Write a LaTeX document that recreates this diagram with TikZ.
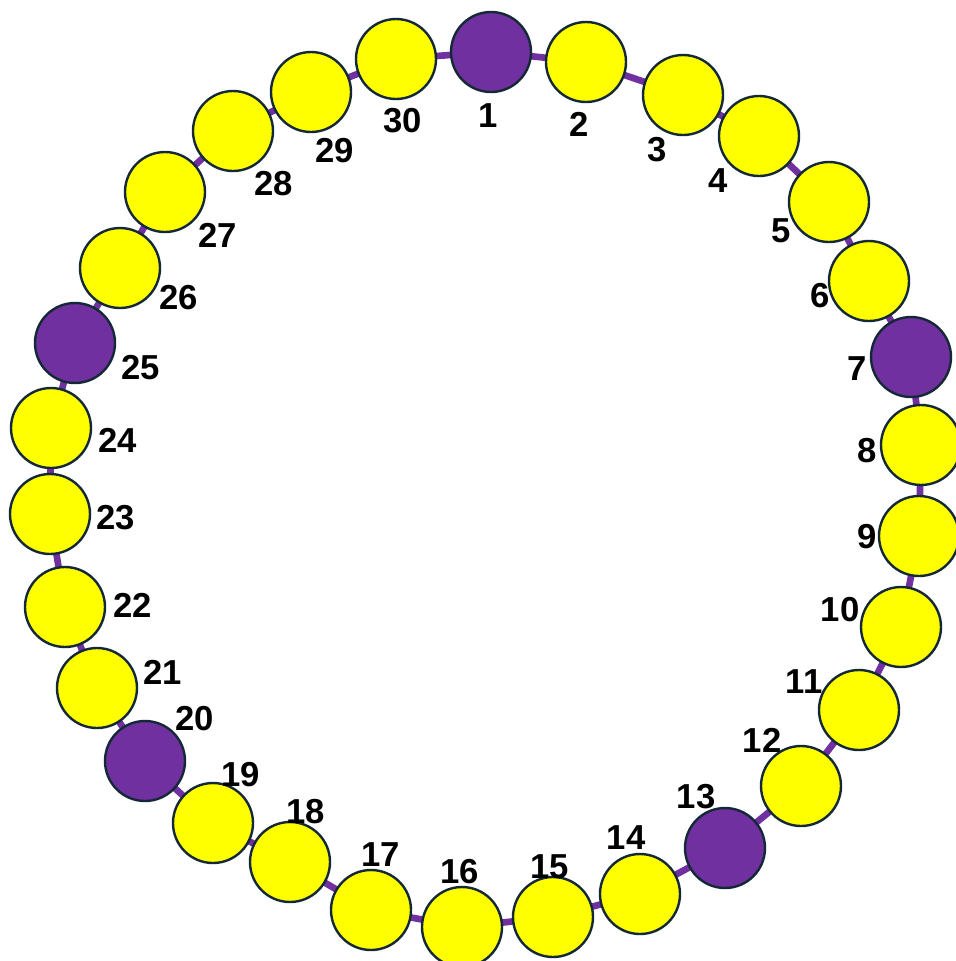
\documentclass[tikz,border=0pt]{standalone}
\usepackage{fontspec}
\setmainfont{Liberation Sans}
\usetikzlibrary{backgrounds}
\definecolor{ringpurple}{RGB}{112,48,160}
\definecolor{ringyellow}{RGB}{255,255,0}
\definecolor{ringborder}{RGB}{20,40,55}
\begin{document}
\begin{tikzpicture}[x=0.75pt,y=-0.75pt,
  bead/.style={circle,draw=ringborder,line width=1.8pt,minimum size=60pt,inner sep=0pt},
  ybead/.style={bead,fill=ringyellow},
  pbead/.style={bead,fill=ringpurple},
  lbl/.style={font=\bfseries\fontsize{26}{26}\selectfont,inner sep=0pt,text=black},
  link/.style={draw=ringpurple,line width=5pt}]
\useasboundingbox (0,0) rectangle (956,961);
\foreach \n/\x/\y/\s/\lx/\ly in {
  1/491/52/pbead/488/116,
  2/586/62/ybead/579/124,
  3/683/95/ybead/657/150,
  4/759/136/ybead/718/181,
  5/829/202/ybead/781/231,
  6/869/281/ybead/820/296,
  7/911/357/pbead/857/369,
  8/921/445/ybead/867/451,
  9/919/536/ybead/867/537,
  10/901/627/ybead/840/610,
  11/859/710/ybead/804/682,
  12/801/786/ybead/762/740,
  13/725/848/pbead/696/797,
  14/640/894/ybead/626/838,
  15/553/917/ybead/550/867,
  16/462/927/ybead/460/872,
  17/371/910/ybead/381/855,
  18/290/862/ybead/306/812,
  19/213/823/ybead/241/775,
  20/145/761/pbead/195/719,
  21/97/688/ybead/163/672,
  22/65/607/ybead/133/605,
  23/50/514/ybead/116/518,
  24/51/428/ybead/118/440,
  25/75/343/pbead/141/368,
  26/120/268/ybead/179/298,
  27/165/192/ybead/218/235,
  28/233/131/ybead/274/184,
  29/311/92/ybead/335/151,
  30/396/59/ybead/403/121}{
  \node[\s] (n\n) at (\x,\y) {};
  \node[lbl] (l\n) at (\lx,\ly) {\n};
}
\begin{pgfonlayer}{background}
\fill[white] (0,0) rectangle (956,961);
\foreach \a/\b in {1/2,2/3,3/4,4/5,5/6,6/7,7/8,8/9,9/10,10/11,11/12,12/13,13/14,14/15,15/16,16/17,17/18,18/19,19/20,20/21,21/22,22/23,23/24,24/25,25/26,26/27,27/28,28/29,29/30,30/1}{
  \draw[link] (n\a.center) -- (n\b.center);
}
\end{pgfonlayer}
\end{tikzpicture}
\end{document}
